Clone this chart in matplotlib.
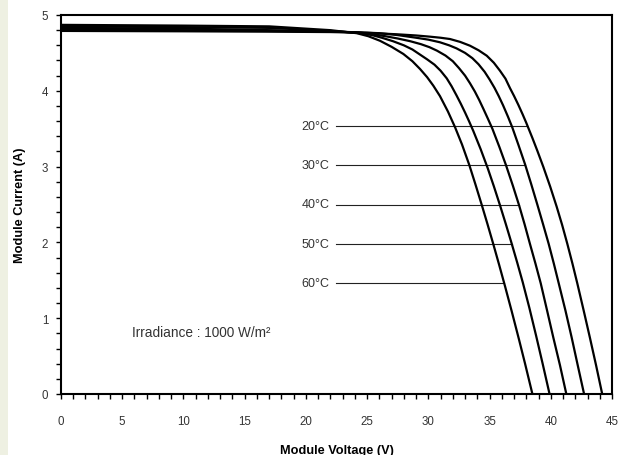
import numpy as np
import matplotlib
matplotlib.use("Agg")
import matplotlib.pyplot as plt
from matplotlib.ticker import MultipleLocator
from matplotlib.patches import Rectangle

# ---- data ----
temps = ["20°C", "30°C", "40°C", "50°C", "60°C"]

v20 = [0, 10, 17, 22, 25, 27.5, 29, 30.14, 31.0, 31.77, 32.6, 33.4, 34.1, 34.77, 35.35, 35.85, 36.3, 36.67,
       37.0, 37.35, 37.7, 38.0, 38.5, 38.9, 39.39, 39.95, 40.48, 40.93, 41.35, 41.77, 42.17, 42.7,
       43.2, 43.7, 44.2]
i20 = [4.79, 4.785, 4.78, 4.775, 4.765, 4.745, 4.73, 4.714, 4.70, 4.683, 4.645, 4.595, 4.535, 4.463, 4.37,
       4.265, 4.16, 4.035, 3.932, 3.815, 3.69, 3.577, 3.377, 3.21, 2.997, 2.737, 2.472, 2.229, 1.982, 1.72,
       1.457, 1.092, 0.74, 0.378, 0.0]

v30 = [0, 10, 17, 22, 24.5, 26, 27.5, 29, 30.0, 30.95, 31.7, 32.3, 33.0, 33.6, 34.1, 34.6, 35.0, 35.4,
       35.75, 36.1, 36.5, 36.85, 37.35, 37.90, 38.4, 38.90, 39.37, 39.83, 40.25, 40.65, 41.2, 41.7, 42.2, 42.72]
i30 = [4.81, 4.80, 4.79, 4.78, 4.77, 4.76, 4.735, 4.70, 4.675, 4.64, 4.60, 4.56, 4.50, 4.43, 4.35, 4.25,
       4.15, 4.04, 3.93, 3.81, 3.66, 3.52, 3.29, 3.03, 2.77, 2.50, 2.24, 1.98, 1.72, 1.46, 1.10, 0.75, 0.38, 0.0]

v40 = [0, 10, 17, 22, 24.3, 25.5, 26.5, 27.5, 28.5, 29.4, 30.1, 30.7, 31.4, 32.0, 32.5, 33.0, 33.4, 33.8,
       34.15, 34.5, 34.87, 35.23, 35.8, 36.34, 36.9, 37.41, 37.86, 38.30, 38.75, 39.18, 39.7, 40.2, 40.75, 41.27]
i40 = [4.83, 4.82, 4.80, 4.785, 4.77, 4.745, 4.72, 4.69, 4.655, 4.615, 4.575, 4.53, 4.465, 4.39, 4.30, 4.20,
       4.10, 3.99, 3.88, 3.76, 3.63, 3.50, 3.26, 3.02, 2.75, 2.49, 2.24, 1.98, 1.72, 1.46, 1.10, 0.75, 0.38, 0.0]

v50 = [0, 10, 17, 22, 24.5, 25.4, 26.2, 27.1, 28.0, 28.7, 29.3, 29.9, 30.5, 31.0, 31.5, 31.9, 32.3, 32.65,
       33.0, 33.33, 33.67, 34.27, 34.85, 35.35, 35.85, 36.33, 36.81, 37.26, 37.71, 38.25, 38.8, 39.33, 39.9]
i50 = [4.85, 4.84, 4.83, 4.79, 4.76, 4.735, 4.70, 4.655, 4.60, 4.545, 4.48, 4.415, 4.345, 4.265, 4.165, 4.06,
       3.94, 3.83, 3.713, 3.597, 3.471, 3.231, 2.979, 2.741, 2.491, 2.241, 1.983, 1.733, 1.474, 1.137, 0.77,
       0.404, 0.0]

v60 = [0, 10, 17, 22, 24.15, 25.1, 26.05, 27.0, 27.96, 28.7, 29.32, 29.9, 30.41, 30.95, 31.6, 32.18, 32.75,
       33.35, 33.85, 34.36, 34.83, 35.31, 35.78, 36.26, 36.8, 37.4, 37.9, 38.5]
i60 = [4.87, 4.86, 4.85, 4.80, 4.76, 4.72, 4.66, 4.58, 4.486, 4.39, 4.288, 4.18, 4.067, 3.93, 3.727, 3.52, 3.292,
       3.019, 2.764, 2.496, 2.242, 1.975, 1.706, 1.424, 1.097, 0.722, 0.40, 0.0]

label_currents = [3.54, 3.02, 2.50, 1.98, 1.47]
label_start_v = 22.46
x_ticks = [0, 5, 10, 15, 20, 25, 30, 35, 40, 45]
y_ticks = [0, 1, 2, 3, 4, 5]
irradiance_text = "Irradiance : 1000 W/m²"

curves = [(v20, i20), (v30, i30), (v40, i40), (v50, i50), (v60, i60)]

# ---- figure ----
plt.rcParams['font.family'] = ['Liberation Sans', 'DejaVu Sans']
fig = plt.figure(figsize=(6.18, 4.56), dpi=100)
fig.patch.set_facecolor('white')

# pale slide-background strip on the left
strip = Rectangle((0, 0), 8 / 618, 1, transform=fig.transFigure,
                  facecolor='#eef0e2', edgecolor='none', zorder=-10)
fig.add_artist(strip)

ax = fig.add_axes([61 / 618, 1 - 395 / 456, (612 - 61) / 618, (395 - 16) / 456])

for v, i in curves:
    ax.plot(v, i, color='black', lw=1.6, solid_joinstyle='round', zorder=3)

tc = '#333333'
for name, cur, (v, i) in zip(temps, label_currents, curves):
    v_end = np.interp(cur, i[::-1], v[::-1])
    ax.plot([label_start_v, v_end], [cur, cur], color='#222222', lw=0.8, zorder=2)
    ax.text(label_start_v - 0.55, cur, name, ha='right', va='center',
            fontsize=9, color=tc)

ax.text(5.77, 0.82, irradiance_text, ha='left', va='center', fontsize=9.8, color=tc)

ax.set_xlim(0, 45)
ax.set_ylim(0, 5)
ax.set_xticks(x_ticks)
ax.set_yticks(y_ticks)
ax.xaxis.set_minor_locator(MultipleLocator(1))
ax.yaxis.set_minor_locator(MultipleLocator(0.2))
ax.tick_params(which='both', direction='out', length=3.3, width=1, color='black')
ax.tick_params(axis='x', which='major', pad=12, labelsize=8.3, labelcolor=tc)
ax.tick_params(axis='y', which='major', pad=6, labelsize=8.3, labelcolor=tc)
for s in ax.spines.values():
    s.set_linewidth(1.5)

ax.set_xlabel("Module Voltage (V)", fontsize=9.2, fontweight='bold')
ax.set_ylabel("Module Current (A)", fontsize=9.2, fontweight='bold')
ax.xaxis.set_label_coords(0.5, -0.133)
ax.yaxis.set_label_coords(-0.063, 0.5)

fig.savefig("out.png", dpi=100)
